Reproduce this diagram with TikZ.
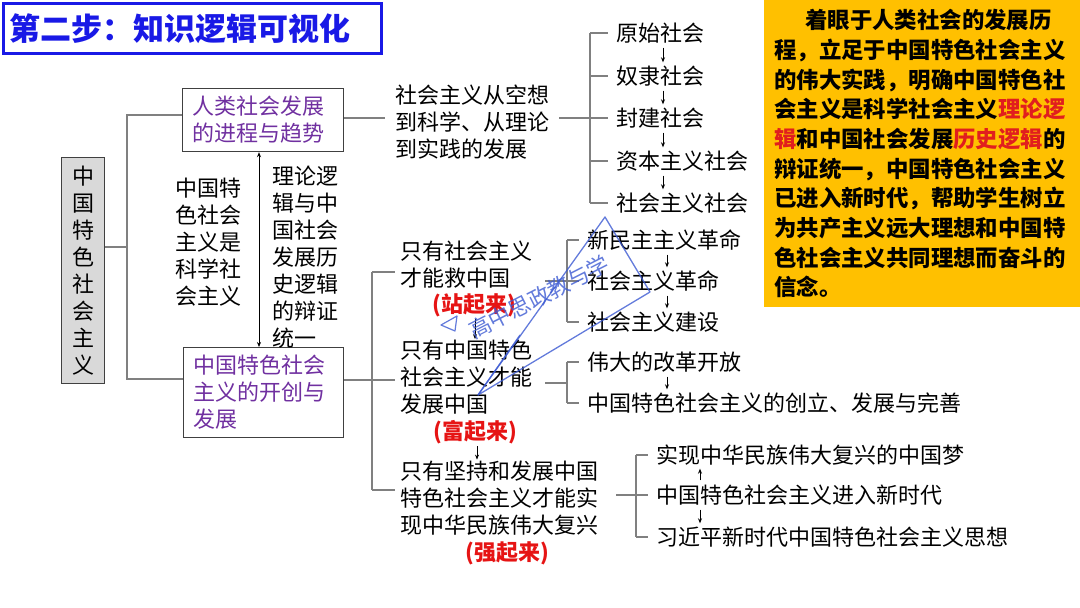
\documentclass[tikz,border=0pt]{standalone}
\usepackage{fontspec}
\setmainfont{Noto Sans CJK SC}
\usetikzlibrary{arrows.meta}
\definecolor{linegray}{RGB}{128,128,128}
\definecolor{boxborder}{RGB}{64,64,64}
\definecolor{rootgray}{RGB}{217,217,217}
\definecolor{purplec}{RGB}{112,48,160}
\definecolor{redc}{RGB}{230,20,20}
\definecolor{noteyellow}{RGB}{255,192,0}
\definecolor{notered}{RGB}{225,30,30}
\definecolor{titleblue}{RGB}{25,25,230}
\definecolor{wmblue}{RGB}{60,90,210}
\begin{document}
\begin{tikzpicture}[x=1pt,y=-1pt,
  txt/.style={inner sep=0pt, align=left, font=\fontsize{22}{27}\selectfont},
  item/.style={txt, anchor=west, inner xsep=8pt, inner ysep=2pt, text height=19pt, text depth=2pt},
  redt/.style={inner sep=0pt, align=center, font=\fontsize{22}{27}\selectfont\bfseries, text=redc, anchor=center},
  conn/.style={draw=linegray, line width=1.2pt},
  arr/.style={draw=black, line width=0.7pt, -{Stealth[length=5pt,width=4pt]}, shorten <=2pt, shorten >=1pt},
  darr/.style={draw=black, line width=0.7pt, {Stealth[length=5pt,width=4pt]}-{Stealth[length=5pt,width=4pt]}},
  box/.style={draw=boxborder, line width=1.2pt, txt, text=purplec, anchor=north west, inner xsep=10pt}
]
\useasboundingbox (0,0) rectangle (1080,608);

% title
\node[draw=titleblue, line width=2.5pt, anchor=north west, inner xsep=6pt, inner ysep=0pt,
      minimum height=50pt, text width=366pt, align=left,
      font=\fontsize{31}{31}\selectfont\bfseries, text=titleblue] (title) at (2,2) {第二步：知识逻辑可视化};

% root and boxes
\node[draw=boxborder, fill=rootgray, line width=1.2pt, txt, align=center,
      minimum width=43pt, minimum height=226pt, anchor=north west] (root) at (61,157)
      {中\\国\\特\\色\\社\\会\\主\\义};
\node[box, minimum width=161pt, minimum height=63pt, text width=141pt] (box1) at (182,88) {人类社会发展\\的进程与趋势};
\node[box, minimum width=160pt, minimum height=90pt, text width=140pt] (box2) at (183,347) {中国特色社会\\主义的开创与\\发展};

\node[txt, anchor=west] (t1) at (175,242.5) {中国特\\色社会\\主义是\\科学社\\会主义};
\node[txt, anchor=west] (t2) at (272,257) {理论逻\\辑与中\\国社会\\发展历\\史逻辑\\的辩证\\统一};

\coordinate (ax0) at (259,0);
\draw[darr] (box1.south -| ax0) -- (box2.north -| ax0);

\coordinate (rj) at (127,247);
\coordinate (y115) at (0,115);
\coordinate (y379) at (0,379);
\draw[conn] (root.east |- rj) -- (rj);
\draw[conn] (box1.west |- y115) -| (rj) |- (box2.west |- y379);

% upper branch
\node[txt, anchor=west] (m1) at (395,122) {社会主义从空想\\到科学、从理论\\到实践的发展};
\node[item] (iA1) at (608,33) {原始社会};
\node[item] (iA2) at (608,76) {奴隶社会};
\node[item] (iA3) at (608,118) {封建社会};
\node[item] (iA4) at (608,161) {资本主义社会};
\node[item] (iA5) at (608,203) {社会主义社会};
\coordinate (bA) at (590,0);
\coordinate (aA) at (663,0);
\draw[conn, shorten >=10pt] (box1.east |- iA3.west) -- (m1.west |- iA3.west);
\draw[conn, shorten <=10pt] (m1.east |- iA3.west) -- (iA3.west -| bA);
\draw[conn] (iA1.west -| bA) -- (iA5.west -| bA);
\foreach \n in {iA1,iA2,iA3,iA4,iA5} \draw[conn] (\n.west -| bA) -- (\n.west);
\draw[arr] (iA1.south -| aA) -- (iA2.north -| aA);
\draw[arr] (iA2.south -| aA) -- (iA3.north -| aA);
\draw[arr] (iA3.south -| aA) -- (iA4.north -| aA);
\draw[arr] (iA4.south -| aA) -- (iA5.north -| aA);

% lower branch
\node[txt, anchor=west] (g1) at (400,264.5) {只有社会主义\\才能救中国};
\node[redt] (g1r) at (474,305) {(站起来)};
\node[txt, anchor=west] (g2) at (400,377.5) {只有中国特色\\社会主义才能\\发展中国};
\node[redt] (g2r) at (475,432) {(富起来)};
\node[txt, anchor=west] (g3) at (400,498) {只有坚持和发展中国\\特色社会主义才能实\\现中华民族伟大复兴};
\node[redt] (g3r) at (507,553) {(强起来)};

\coordinate (ag1) at (475,0);
\coordinate (ag2) at (477,0);
\draw[arr] (g1r.south -| ag1) -- (g2.north -| ag1);
\draw[arr] (g2r.south -| ag2) -- (g3.north -| ag2);

\coordinate (vj) at (372,380);
\coordinate (vt) at (372,272);
\coordinate (vb) at (372,490);
\draw[conn] (box2.east |- vj) -- (vj);
\draw[conn] (vt) -- (vb);
\draw[conn, shorten >=5pt] (vt) -- (g1.west |- vt);
\draw[conn, shorten >=5pt] (vj) -- (g2.west |- vj);
\draw[conn, shorten >=5pt] (vb) -- (g3.west |- vb);

% group B
\node[item] (iB1) at (579,240) {新民主主义革命};
\node[item] (iB2) at (579,281) {社会主义革命};
\node[item] (iB3) at (579,322) {社会主义建设};
\coordinate (bB) at (567,0);
\coordinate (aB) at (667,0);
\draw[conn, shorten <=13pt] (g1.east |- iB2.west) -- (iB2.west -| bB);
\draw[conn] (iB1.west -| bB) -- (iB3.west -| bB);
\foreach \n in {iB1,iB2,iB3} \draw[conn] (\n.west -| bB) -- (\n.west);
\draw[arr] (iB1.south -| aB) -- (iB2.north -| aB);
\draw[arr] (iB2.south -| aB) -- (iB3.north -| aB);

% group C
\node[item] (iC1) at (579,362) {伟大的改革开放};
\node[item] (iC2) at (579,403) {中国特色社会主义的创立、发展与完善};
\coordinate (cj) at (567,383);
\draw[conn, shorten <=13pt] (g2.east |- cj) -- (cj);
\draw[conn] (iC1.west -| bB) -- (iC2.west -| bB);
\foreach \n in {iC1,iC2} \draw[conn] (\n.west -| bB) -- (\n.west);
\draw[arr] (iC1.south -| aB) -- (iC2.north -| aB);

% group D
\node[item] (iD1) at (648,455) {实现中华民族伟大复兴的中国梦};
\node[item] (iD2) at (648,495) {中国特色社会主义进入新时代};
\node[item] (iD3) at (648,537) {习近平新时代中国特色社会主义思想};
\coordinate (bD) at (636,0);
\coordinate (aD) at (700,0);
\draw[conn, shorten <=18pt] (g3.east |- iD2.west) -- (iD2.west -| bD);
\draw[conn] (iD1.west -| bD) -- (iD3.west -| bD);
\foreach \n in {iD1,iD2,iD3} \draw[conn] (\n.west -| bD) -- (\n.west);
\draw[arr] (iD2.north -| aD) -- (iD1.south -| aD);
\draw[arr] (iD2.south -| aD) -- (iD3.north -| aD);

% note box
\node[fill=noteyellow, anchor=north west, minimum width=316pt, minimum height=307pt,
      inner xsep=10pt, inner ysep=0pt, text width=296pt, align=left,
      font=\fontsize{22.4}{29.7}\selectfont\bfseries] (note) at (764,0)
 {\hspace*{31pt}着眼于人类社会的发展历\\
  程，立足于中国特色社会主义\\
  的伟大实践，明确中国特色社\\
  会主义是科学社会主义{\color{notered}理论逻}\\
  {\color{notered}辑}和中国社会发展{\color{notered}历史逻辑}的\\
  辩证统一，中国特色社会主义\\
  已进入新时代，帮助学生树立\\
  为共产主义远大理想和中国特\\
  色社会主义共同理想而奋斗的\\
  信念。};

% watermark
\begin{scope}[opacity=0.8]
\draw[wmblue, line width=1.3pt, line join=round] (605,217) -- (478,395) -- (650,292) -- cycle;
\draw[wmblue, line width=1.3pt] (520,335) -- (478,395);
\draw[wmblue, line width=1.2pt, line join=round] (441,325) -- (457,316) -- (455,331) -- cycle;
\node[rotate=27, text=wmblue, inner sep=0pt, font=\fontsize{22}{22}\selectfont] (wm) at (539,297) {高中思政教与学};
\end{scope}
\end{tikzpicture}
\end{document}
